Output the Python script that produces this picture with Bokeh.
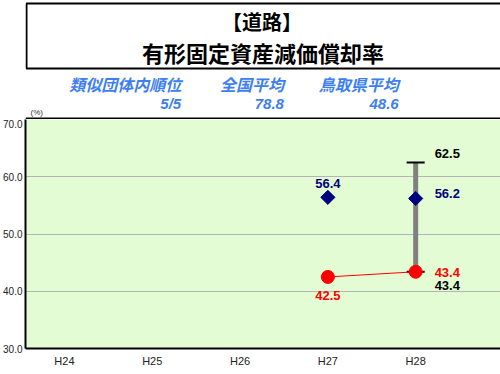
from bokeh.plotting import figure
from bokeh.layouts import column
from bokeh.models import Range1d, FixedTicker, ColumnDataSource
from bokeh.core.properties import value
from bokeh.embed import file_html
from bokeh.resources import INLINE
import math

# ---- data ----
title_line1 = "【道路】"
title_line2 = "有形固定資産減価償却率"
info_labels = ["類似団体内順位", "全国平均", "鳥取県平均"]
info_values = ["5/5", "78.8", "48.6"]
years = ["H24", "H25", "H26", "H27", "H28"]
# 当該団体値 (red)
own_idx = [3, 4]
own_vals = [42.5, 43.4]
# 類似団体平均 (navy diamonds)
avg_idx = [3, 4]
avg_vals = [56.4, 56.2]
# 類似団体 最大・最小 (range bar)
rng_idx = [4]
rng_max = [62.5]
rng_min = [43.4]
y_ticks = [30, 40, 50, 60, 70]
y_unit = "(%)"

JP = "Noto Sans CJK JP"
NUM = "Liberation Sans"

W = 500
LEFT = 24
H_TOP = 119

# ---------------- header figure (pixel-like coordinates) ----------------
top = figure(width=W, height=H_TOP, output_backend="svg", toolbar_location=None,
             x_range=Range1d(LEFT, W), y_range=Range1d(H_TOP, 0),
             x_axis_location=None, y_axis_location=None,
             min_border_left=LEFT, min_border_right=0, min_border_top=0, min_border_bottom=0)
top.outline_line_color = None
top.grid.visible = False
top.background_fill_color = "white"
top.border_fill_color = "white"

top.quad(left=[LEFT + 1], right=[W + 20], top=[3], bottom=[68], fill_color="white",
         line_color="black", line_width=2)
top.text(x=[261], y=[21], text=[title_line1], text_align="center", text_baseline="middle",
         text_font=value(JP), text_font_style="bold", text_font_size="20px", text_color="black")
top.text(x=[262], y=[51], text=[title_line2], text_align="center", text_baseline="middle",
         text_font=value(JP), text_font_style="bold", text_font_size="22px", text_color="black")

blue = "#3d7ef0"
info_right = [180, 283, 398]
top.text(x=info_right, y=[83, 83, 83], text=info_labels, text_align="right", text_baseline="middle",
         text_font=value(JP), text_font_style="bold italic", text_font_size="16px", text_color=blue)
top.text(x=info_right, y=[103, 103, 103], text=info_values, text_align="right", text_baseline="middle",
         text_font=value(NUM), text_font_style="bold italic", text_font_size="15px", text_color=blue)
top.text(x=[29], y=[112], text=[y_unit], text_align="left", text_baseline="middle",
         text_font=value(NUM), text_font_size="8px", text_color="#333333")
# top border of plot area
top.segment(x0=[LEFT], x1=[W + 20], y0=[H_TOP - 1], y1=[H_TOP - 1], line_color="black", line_width=2)

# ---------------- chart figure ----------------
step = 88.0
first_px = 63.0
xs = list(range(len(years)))
x_start = -(first_px - LEFT) / step
x_end = (W - first_px) / step

p = figure(width=W, height=374 - H_TOP, output_backend="svg", toolbar_location=None,
           x_range=Range1d(x_start, x_end), y_range=Range1d(y_ticks[0], y_ticks[-1]),
           min_border_left=LEFT, min_border_right=0, min_border_top=0,
           min_border_bottom=26)
p.outline_line_color = None
p.background_fill_color = "#e4fcd4"
p.border_fill_color = "white"

p.xgrid.visible = False
p.ygrid.ticker = FixedTicker(ticks=y_ticks)
p.ygrid.grid_line_color = "#b4b4b4"
p.ygrid.grid_line_width = 1

p.xaxis.ticker = FixedTicker(ticks=xs)
p.xaxis.major_label_overrides = {i: y for i, y in zip(xs, years)}
p.xaxis.major_tick_in = 0
p.xaxis.major_tick_out = 0
p.xaxis.minor_tick_line_color = None
p.xaxis.axis_line_width = 2
p.xaxis.axis_line_color = "black"
p.xaxis.major_label_standoff = 6
p.xaxis.major_label_text_font = NUM
p.xaxis.major_label_text_font_size = "11px"
p.xaxis.major_label_text_color = "#222222"

p.yaxis.ticker = FixedTicker(ticks=y_ticks)
p.yaxis.major_label_overrides = {t: f"{t:.1f}" for t in y_ticks}
p.yaxis.major_label_text_font = NUM
p.yaxis.major_label_text_font_size = "10px"
p.yaxis.major_label_text_color = "#222222"
p.yaxis.major_tick_in = 0
p.yaxis.major_tick_out = 0
p.yaxis.minor_tick_line_color = None
p.yaxis.major_label_standoff = 3
p.yaxis.axis_line_width = 2
p.yaxis.axis_line_color = "black"

# range bar (min-max)
rsrc = ColumnDataSource(dict(x=rng_idx, top=rng_max, bot=rng_min))
p.segment(x0="x", x1="x", y0="bot", y1="top", source=rsrc, line_color="#808080", line_width=5)
p.dash(x="x", y="top", source=rsrc, size=18, line_color="black", line_width=2)
p.dash(x="x", y="bot", source=rsrc, size=18, line_color="black", line_width=2)

# own values
p.line(x=own_idx, y=own_vals, line_color="#ff0000", line_width=1)
p.scatter(x=own_idx, y=own_vals, marker="circle", size=13, fill_color="#ff0000", line_color="#ff0000")

# average
p.scatter(x=avg_idx, y=avg_vals, marker="square", angle=math.pi / 4, size=10,
          fill_color="#000080", line_color="#000080")

# data labels
lf = value(NUM)
lsize = "13px"
dx = 19.0 / step
p.text(x=[i + dx for i in rng_idx], y=rng_max, text=[f"{v:.1f}" for v in rng_max], y_offset=-9,
       text_align="left", text_baseline="middle", text_font=lf, text_font_style="bold",
       text_font_size=lsize, text_color="black")
p.text(x=[i + dx for i in rng_idx], y=rng_min, text=[f"{v:.1f}" for v in rng_min], y_offset=14,
       text_align="left", text_baseline="middle", text_font=lf, text_font_style="bold",
       text_font_size=lsize, text_color="black")
p.text(x=[avg_idx[1] + dx], y=[avg_vals[1]], text=[f"{avg_vals[1]:.1f}"], y_offset=-5,
       text_align="left", text_baseline="middle", text_font=lf, text_font_style="bold",
       text_font_size=lsize, text_color="#000080")
p.text(x=[own_idx[1] + dx], y=[own_vals[1]], text=[f"{own_vals[1]:.1f}"], y_offset=1,
       text_align="left", text_baseline="middle", text_font=lf, text_font_style="bold",
       text_font_size=lsize, text_color="#ff0000")
p.text(x=[avg_idx[0]], y=[avg_vals[0]], text=[f"{avg_vals[0]:.1f}"], y_offset=-14,
       text_align="center", text_baseline="middle", text_font=lf, text_font_style="bold",
       text_font_size=lsize, text_color="#000080")
p.text(x=[own_idx[0]], y=[own_vals[0]], text=[f"{own_vals[0]:.1f}"], y_offset=19,
       text_align="center", text_baseline="middle", text_font=lf, text_font_style="bold",
       text_font_size=lsize, text_color="#ff0000")

layout = column(top, p, spacing=0)
open("out.html", "w").write(file_html(layout, INLINE))
